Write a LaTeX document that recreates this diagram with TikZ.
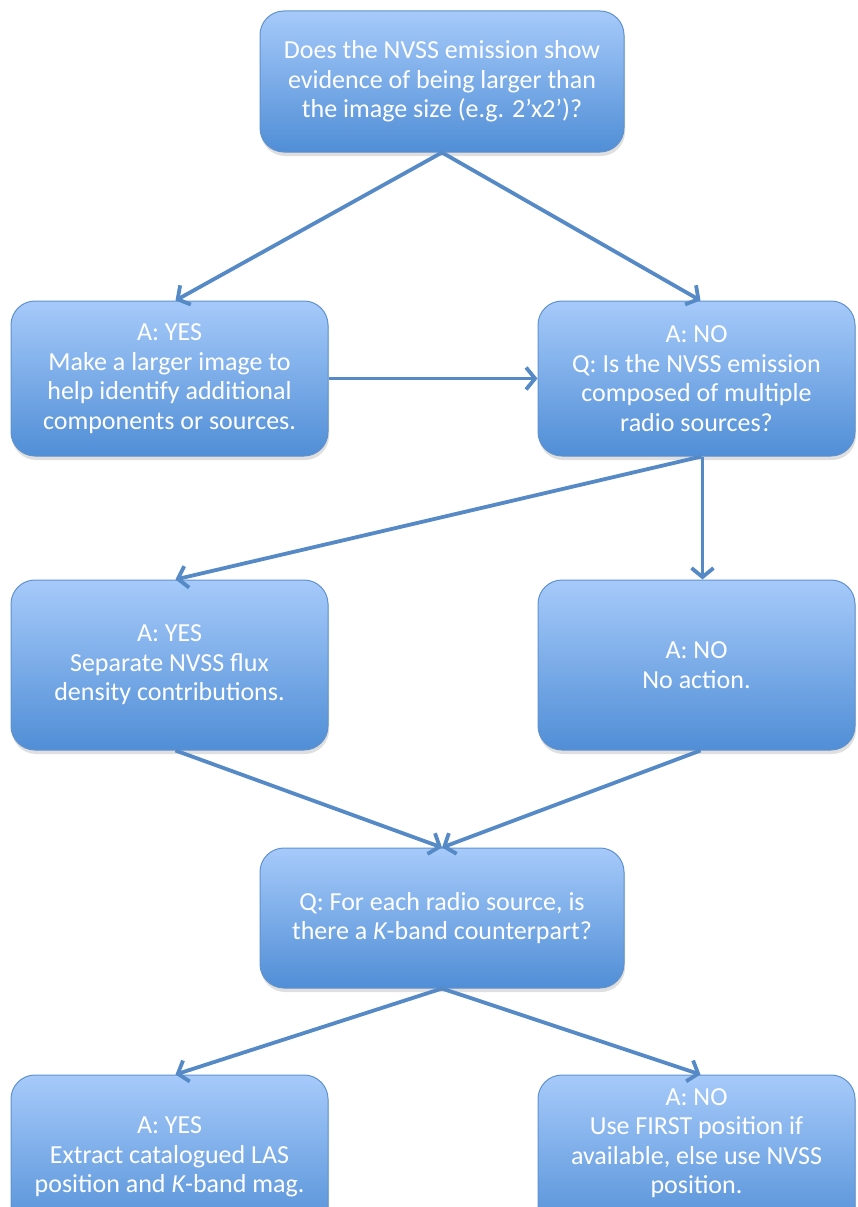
\documentclass[tikz,border=0pt]{standalone}
\usepackage{fontspec}
\setmainfont{Carlito}
\usetikzlibrary{arrows.meta, shadows}
\definecolor{boxtop}{RGB}{166,202,250}
\definecolor{boxbot}{RGB}{80,142,214}
\definecolor{boxline}{RGB}{96,146,206}
\definecolor{flow}{RGB}{86,138,198}
\begin{document}
\begin{tikzpicture}[x=1pt, y=-1pt, >={Straight Barb[length=9pt,width=22pt]},
  box/.style={draw=boxline, line width=1pt, rounded corners=24pt,
    top color=boxtop, bottom color=boxbot, inner sep=0pt,
    drop shadow={opacity=0.25, shadow xshift=1pt, shadow yshift=-4pt}},
  txt/.style={text=white, align=center, font=\fontsize{26}{29.5}\selectfont},
  flowline/.style={draw=flow, line width=3.8pt, ->}]
  \useasboundingbox (0,0) rectangle (857,1207);
  \clip (0,0) rectangle (857,1207);
  % questions and answers
  \node[box, txt, minimum width=364pt, minimum height=141pt] (q1) at (442,81.5)
    {Does the NVSS emission show\\evidence of being larger than\\the image size (e.g. 2’x2’)?};
  \node[box, txt, minimum width=317pt, minimum height=155pt] (yes1) at (169.5,378.5)
    {A: YES\\Make a larger image to\\help identify additional\\components or sources.};
  \node[box, txt, minimum width=317pt, minimum height=155pt] (no1) at (696.5,378.5)
    {A: NO\\Q: Is the NVSS emission\\composed of multiple\\radio sources?};
  \node[box, txt, minimum width=317pt, minimum height=170pt] (yes2) at (169.5,665)
    {A: YES\\Separate NVSS flux\\density contributions.};
  \node[box, txt, minimum width=317pt, minimum height=170pt] (no2) at (696.5,665)
    {A: NO\\No action.};
  \node[box, txt, minimum width=364pt, minimum height=140pt] (q2) at (442,918)
    {Q: For each radio source, is\\there a {\itshape K}-band counterpart?};
  \node[box, txt, minimum width=317pt, minimum height=164pt] (yes3) at (169.5,1157)
    {A: YES\\Extract catalogued LAS\\position and {\itshape K}-band mag.};
  \node[box, minimum width=317pt, minimum height=164pt] (no3) at (696.5,1157) {};
  \node[txt] (no3text) at (696.5,1143)
    {A: NO\\Use FIRST position if\\available, else use NVSS\\position.};
  % connectors
  \draw[flowline] (q1.south) -- ([xshift=6pt]yes1.north);
  \draw[flowline] (q1.south) -- ([xshift=4pt]no1.north);
  \draw[flowline] (yes1.east) -- (no1.west);
  \draw[flowline] ([xshift=5pt]no1.south) -- ([xshift=6pt]yes2.north);
  \draw[flowline] ([xshift=6pt]no1.south) -- ([xshift=6pt]no2.north);
  \draw[flowline] ([xshift=6pt]yes2.south) -- (q2.north);
  \draw[flowline] ([xshift=4pt]no2.south) -- (q2.north);
  \draw[flowline] (q2.south) -- ([xshift=6pt]yes3.north);
  \draw[flowline] (q2.south) -- ([xshift=4pt]no3.north);
\end{tikzpicture}
\end{document}
